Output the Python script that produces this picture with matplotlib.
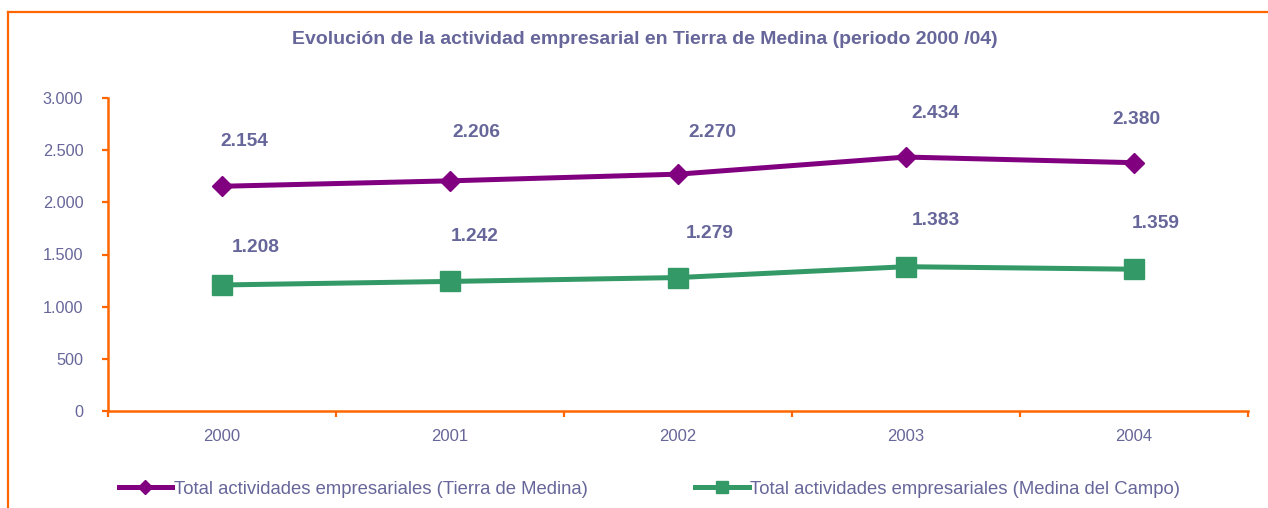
import matplotlib
matplotlib.use("Agg")
import matplotlib.pyplot as plt
from matplotlib.lines import Line2D

years = ["2000", "2001", "2002", "2003", "2004"]
tierra = [2154, 2206, 2270, 2434, 2380]
medina = [1208, 1242, 1279, 1383, 1359]
yticks = [0, 500, 1000, 1500, 2000, 2500, 3000]
title = "Evolución de la actividad empresarial en Tierra de Medina (periodo 2000 /04)"
label_tierra = "Total actividades empresariales (Tierra de Medina)"
label_medina = "Total actividades empresariales (Medina del Campo)"

ORANGE = "#FF6600"
TEXT = "#66669A"
PURPLE = "#800080"
GREEN = "#339966"

plt.rcParams['font.family'] = ['Liberation Sans', 'DejaVu Sans']

W, H = 1268, 508
fig = plt.figure(figsize=(W / 100, H / 100), dpi=100)

# outer frame (top and left edges visible)
fig.add_artist(Line2D([8 / W, 1.0], [1 - 12 / H, 1 - 12 / H], transform=fig.transFigure, color=ORANGE, lw=1.6))
fig.add_artist(Line2D([8 / W, 8 / W], [0, 1 - 12 / H], transform=fig.transFigure, color=ORANGE, lw=1.6))

ax = fig.add_axes([108 / W, (H - 411) / H, (1248 - 108) / W, (411 - 98) / H])
x = list(range(len(years)))

ax.plot(x, tierra, color=PURPLE, lw=3.6, marker='D', ms=10.5, mec=PURPLE, mfc=PURPLE, zorder=3)
ax.plot(x, medina, color=GREEN, lw=3.6, marker='s', ms=14, mec=GREEN, mfc=GREEN, zorder=3)

off_t = [(16, 32), (19, 35), (24.5, 30), (21, 31), (2, 31)]
off_m = [(24.5, 27), (18, 32), (23, 32), (21.5, 33), (16, 33)]
for i, v in enumerate(tierra):
    ax.annotate(f"{v/1000:.3f}", (i, v), xytext=off_t[i], textcoords='offset points',
                ha='center', va='center', fontsize=13.8, fontweight='bold', color=TEXT)
for i, v in enumerate(medina):
    ax.annotate(f"{v/1000:.3f}", (i, v), xytext=off_m[i], textcoords='offset points',
                ha='center', va='center', fontsize=13.8, fontweight='bold', color=TEXT)

ax.set_xlim(-0.5, len(years) - 0.5)
ax.set_ylim(0, 3000)
ax.set_yticks(yticks)
ax.set_yticklabels([f"{t:,}".replace(",", ".") for t in yticks])
ax.set_xticks([i - 0.5 for i in range(len(years) + 1)])
ax.set_xticklabels([])
ax.set_xticks(x, minor=True)
ax.set_xticklabels(years, minor=True)
ax.tick_params(axis='x', which='minor', length=0, pad=13, labelsize=12, labelcolor=TEXT)
ax.tick_params(axis='x', which='major', length=4, width=1.6, color=ORANGE, direction='out')
ax.tick_params(axis='y', length=4.3, width=1.6, color=ORANGE, labelsize=11.7, labelcolor=TEXT, pad=13.5)

for s in ['top', 'right']:
    ax.spines[s].set_visible(False)
for s in ['left', 'bottom']:
    ax.spines[s].set_color(ORANGE)
    ax.spines[s].set_linewidth(1.8)

fig.text(645 / W, 1 - 40 / H, title, ha='center', va='center',
         fontsize=14, fontweight='bold', color=TEXT)

h1 = Line2D([], [], color=PURPLE, lw=3.6, marker='D', ms=7)
h2 = Line2D([], [], color=GREEN, lw=3.6, marker='s', ms=9)
leg = fig.legend([h1, h2], [label_tierra, label_medina], loc='center', ncol=2,
                 bbox_to_anchor=(649.5 / W, 1 - 489 / H), frameon=False, fontsize=13.3,
                 handlelength=2.9, handletextpad=0.1, columnspacing=5.8, labelcolor=TEXT)

fig.savefig("out.png", dpi=100)
